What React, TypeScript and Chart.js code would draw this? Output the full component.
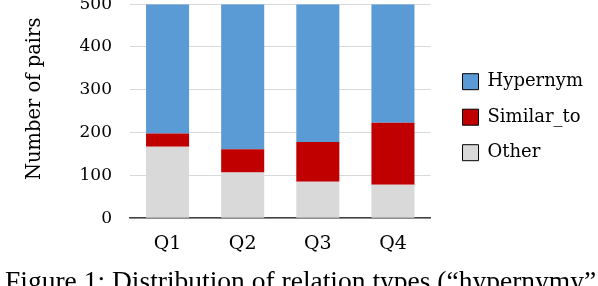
import React, { useEffect, useRef } from "react";
import { Chart, registerables } from "chart.js";

Chart.register(...registerables);

const categories = ["Q1", "Q2", "Q3", "Q4"];
const otherValues = [167, 107, 85, 78];
const similarValues = [31, 54, 93, 145];
const hypernymValues = [302, 339, 322, 277];
const seriesNames = ["Hypernym", "Similar_to", "Other"];
const yTitle = "Number of pairs";
const caption = "Figure 1: Distribution of relation types (\u201chypernymy\u201d, \u201csimilar_to\u201d and other)";

const FONT = "'DejaVu Serif', serif";
// hidden extra room to the left of the visible page, so the legend gets enough layout width
const SHIFT = 340;

export default function App() {
  const ref = useRef<HTMLCanvasElement | null>(null);

  useEffect(() => {
    document.body.style.margin = "0";
    const canvas = ref.current;
    if (!canvas) return;
    const chart = new Chart(canvas, {
      type: "bar",
      data: {
        labels: categories,
        datasets: [
          { label: seriesNames[2], data: otherValues, backgroundColor: "#D9D9D9" },
          { label: seriesNames[1], data: similarValues, backgroundColor: "#C00000" },
          { label: seriesNames[0], data: hypernymValues, backgroundColor: "#5B9BD5" },
        ],
      },
      options: {
        responsive: false,
        animation: false,
        datasets: { bar: { categoryPercentage: 1, barPercentage: 0.573, borderWidth: 0 } },
        layout: { padding: { left: 0, right: 5, top: 0, bottom: 5 } },
        plugins: {
          tooltip: { enabled: false },
          legend: {
            position: "right",
            fullSize: false,
            title: { display: true, text: "", font: { size: 10, family: FONT } },
            labels: {
              boxWidth: 16,
              boxHeight: 16,
              padding: 17.5,
              color: "#000",
              font: { family: FONT, size: 18 },
              generateLabels: (c: any) => {
                const ds = c.data.datasets;
                return [2, 1, 0].map((i) => ({
                  text: ds[i].label,
                  fillStyle: ds[i].backgroundColor,
                  strokeStyle: "#000",
                  lineWidth: 1,
                  hidden: false,
                  datasetIndex: i,
                  fontColor: "#000",
                }));
              },
            },
          },
        },
        scales: {
          x: {
            stacked: true,
            grid: { display: false, drawTicks: false },
            border: { display: true, color: "#404040", width: 1.5 },
            ticks: { color: "#000", font: { family: FONT, size: 19 }, padding: 14 },
          },
          y: {
            stacked: true,
            min: 0,
            max: 500,
            grid: { color: "#d9d9d9", lineWidth: 1, drawTicks: false },
            border: { display: false },
            ticks: { stepSize: 100, color: "#000", font: { family: FONT, size: 17 }, padding: 18 },
            title: {
              display: true,
              text: "    " + yTitle,
              color: "#000",
              font: { family: FONT, size: 19.5 },
              padding: { top: 23 + SHIFT, bottom: 0 },
            },
            afterFit: (s: any) => {
              s.width = 130 + SHIFT;
            },
          },
          gap: {
            type: "linear",
            position: "right",
            display: true,
            grid: { display: false, drawTicks: false },
            border: { display: false },
            ticks: { display: false },
            afterFit: (s: any) => {
              s.width = 14.5;
            },
          },
        },
      },
    } as any);
    return () => chart.destroy();
  }, []);

  return (
    <div style={{ position: "absolute", left: 0, top: 0, width: 598, height: 286, overflow: "hidden", background: "#fff" }}>
      <div style={{ position: "absolute", left: -SHIFT, top: -24, width: 598 + SHIFT, height: 298 }}>
        <canvas ref={ref} width={598 + SHIFT} height={298} style={{ display: "block" }} />
      </div>
      <div
        style={{
          position: "absolute",
          left: 5,
          top: 267,
          whiteSpace: "nowrap",
          fontFamily: "'Liberation Serif', serif",
          fontSize: 27.5,
          lineHeight: "27px",
          color: "#000",
        }}
      >
        {caption}
      </div>
    </div>
  );
}
